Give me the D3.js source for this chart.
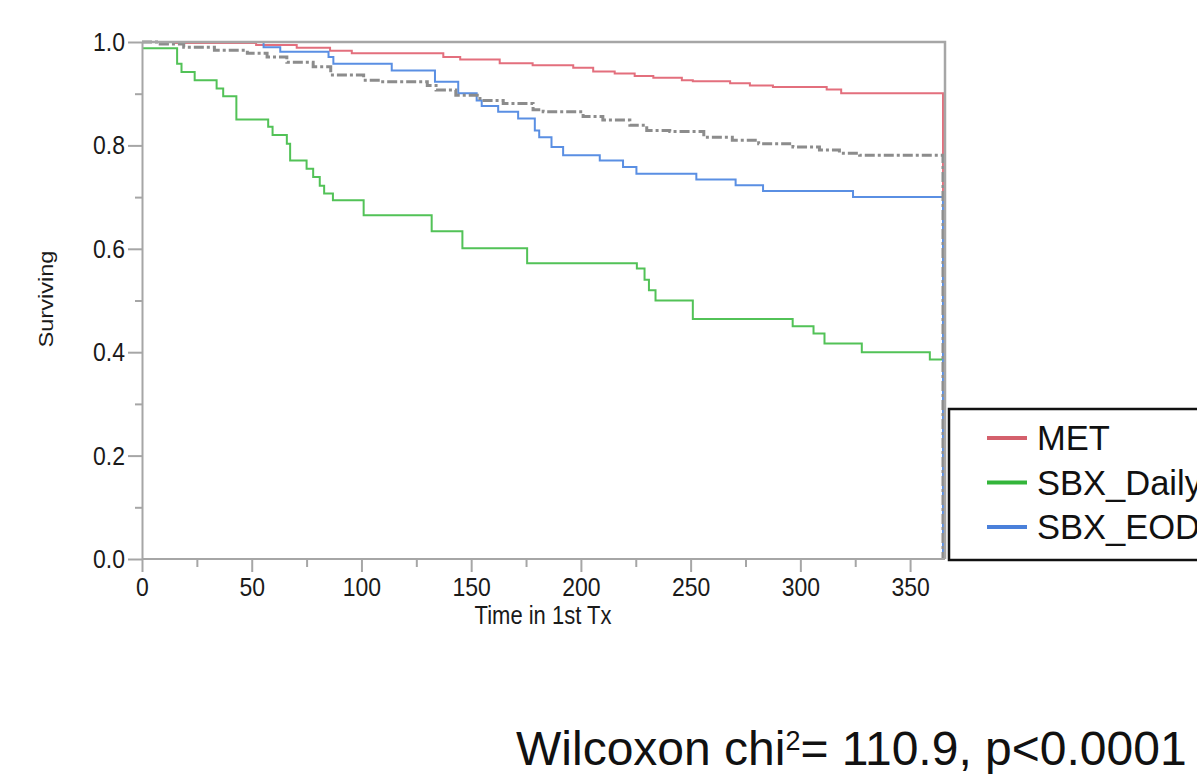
<!DOCTYPE html>
<html>
<head>
<meta charset="utf-8">
<script src="https://cdn.jsdelivr.net/npm/d3@7"></script>
<style>
  html, body { margin: 0; padding: 0; background: #fff; }
  svg { display: block; font-family: "Liberation Sans", Arial, Helvetica, sans-serif; }
  .tall { transform-box: fill-box; transform-origin: center; transform: scaleY(1.15); }
</style>
</head>
<body>
<svg id="chart" width="1197" height="774"></svg>
<script>
// Axis ticks
const timeTicks = [0, 50, 100, 150, 200, 250, 300, 350];
const timeMinor = [25, 75, 125, 175, 225, 275, 325];
const survTicks = [0, 0.2, 0.4, 0.6, 0.8, 1.0];
const survMinor = [0.1, 0.3, 0.5, 0.7, 0.9];

// Kaplan-Meier steps: [time in 1st Tx (days), surviving fraction after that time]
const metSteps = [
  [0, 1.0], [15, 0.998], [52, 0.994], [70.5, 0.989], [85.7, 0.983], [95.6, 0.978],
  [137.3, 0.971], [145, 0.966], [163, 0.959], [178, 0.955], [196.5, 0.950],
  [205.6, 0.943], [215.4, 0.939], [224.5, 0.934], [233, 0.931], [246, 0.926],
  [251, 0.924], [268, 0.920], [277, 0.916], [287.5, 0.913], [312, 0.908],
  [318.6, 0.901], [365, 0]
];
const dailySteps = [
  [0, 0.988], [16, 0.958], [18, 0.942], [24, 0.926], [34, 0.910], [37, 0.895],
  [43, 0.850], [57.5, 0.836], [59.5, 0.820], [66, 0.803], [67.5, 0.771], [75, 0.755],
  [78, 0.739], [81, 0.722], [83, 0.707], [87, 0.694], [101, 0.665], [132, 0.634],
  [146, 0.601], [175.5, 0.572], [225.5, 0.562], [229, 0.540], [231, 0.520],
  [234, 0.500], [251, 0.464], [296.5, 0.450], [306, 0.436], [311, 0.417],
  [328, 0.400], [359, 0.386], [365, 0]
];
const eodSteps = [
  [0, 1.0], [55.4, 0.990], [63, 0.981], [85, 0.971], [87.2, 0.958], [113.8, 0.945],
  [133.5, 0.923], [144.1, 0.901], [152.5, 0.887], [154.8, 0.876], [162.3, 0.865],
  [171.4, 0.852], [179, 0.829], [181, 0.816], [186.6, 0.797], [191.9, 0.781],
  [208.6, 0.771], [219.2, 0.758], [225.3, 0.745], [252.6, 0.734], [270.5, 0.723],
  [283, 0.712], [324, 0.700], [365, 0]
];
const allSteps = [
  [0, 1.0], [8.3, 0.996], [19, 0.990], [33, 0.984], [48, 0.978], [57, 0.971],
  [66, 0.961], [78, 0.952], [86, 0.936], [101, 0.926], [108.5, 0.923], [130, 0.916],
  [134, 0.907], [143, 0.897], [154, 0.887], [164.6, 0.881], [178.2, 0.869],
  [182.8, 0.865], [201, 0.856], [210, 0.849], [222.3, 0.839], [230, 0.829],
  [240.5, 0.827], [256, 0.816], [269, 0.810], [281, 0.803], [296.6, 0.797],
  [308.7, 0.791], [317.8, 0.785], [327, 0.781], [365, 0]
];

const groupNames = ["MET", "SBX_Daily", "SBX_EOD"];
const curveColors = ["#e36f7d", "#52c257", "#5a8fe3"];
const legendColors = ["#d4606c", "#33b53a", "#4a80da"];

const svg = d3.select("#chart");
const plotLeft = 142, plotRight = 943, plotTop = 42, plotBottom = 559;

const x = d3.scaleLinear().domain([0, 365]).range([plotLeft, plotRight]);
const y = d3.scaleLinear().domain([0, 1]).range([plotBottom, plotTop]);

const axisGray = "#a6a6a6";

// Survival curves
const line = d3.line()
  .x(d => x(d[0]))
  .y(d => y(d[1]))
  .curve(d3.curveStepAfter);

const curves = svg.append("g").attr("fill", "none");
[metSteps, dailySteps, eodSteps].forEach((steps, i) => {
  curves.append("path")
    .attr("d", line(steps))
    .attr("stroke", curveColors[i])
    .attr("stroke-width", 2);
});
curves.append("path")
  .attr("d", line(allSteps))
  .attr("stroke", "#8c8c8c")
  .attr("stroke-width", 3)
  .attr("stroke-dasharray", "10,3,3,3");

// Frame (top and right)
svg.append("path")
  .attr("d", `M${plotLeft},${plotTop}H${plotRight + 2}V${plotBottom}`)
  .attr("fill", "none")
  .attr("stroke", axisGray)
  .attr("stroke-width", 2.5);

// Axes
function styleAxis(g) {
  g.selectAll(".domain").attr("stroke", axisGray).attr("stroke-width", 2);
  g.selectAll(".tick line").attr("stroke", axisGray).attr("stroke-width", 2);
  g.selectAll(".tick text")
    .attr("fill", "#1a1a1a")
    .attr("font-size", 23)
    .attr("font-family", "Liberation Sans, Arial, sans-serif")
    .classed("tall", true);
}

svg.append("g")
  .attr("transform", `translate(${plotLeft},0)`)
  .call(d3.axisLeft(y).tickValues(survMinor).tickSize(7).tickFormat("").tickSizeOuter(0))
  .call(g => g.select(".domain").remove())
  .call(styleAxis);

svg.append("g")
  .attr("transform", `translate(0,${plotBottom})`)
  .call(d3.axisBottom(x).tickValues(timeMinor).tickSize(8).tickFormat("").tickSizeOuter(0))
  .call(g => g.select(".domain").remove())
  .call(styleAxis);

svg.append("g")
  .attr("transform", `translate(${plotLeft},0)`)
  .call(d3.axisLeft(y).tickValues(survTicks).tickFormat(d3.format(".1f"))
    .tickSize(14).tickPadding(3).tickSizeOuter(0))
  .call(styleAxis);

svg.append("g")
  .attr("transform", `translate(0,${plotBottom})`)
  .call(d3.axisBottom(x).tickValues(timeTicks).tickFormat(d3.format("d"))
    .tickSize(13).tickPadding(6).tickSizeOuter(0))
  .call(g => g.select(".domain").attr("d", `M${plotLeft},0H${plotRight + 2}`))
  .call(styleAxis);

// Axis titles
svg.append("text")
  .attr("class", "tall")
  .attr("x", 543).attr("y", 623)
  .attr("text-anchor", "middle")
  .attr("font-size", 22)
  .attr("fill", "#1a1a1a")
  .text("Time in 1st Tx");

svg.append("text")
  .attr("transform", "translate(53,299) scale(1,1.15) rotate(-90)")
  .attr("text-anchor", "middle")
  .attr("font-size", 20.5)
  .attr("fill", "#1a1a1a")
  .text("Surviving");

// Legend
const legend = svg.append("g");
legend.append("rect")
  .attr("x", 949).attr("y", 409)
  .attr("width", 300).attr("height", 151)
  .attr("fill", "#fff")
  .attr("stroke", "#111")
  .attr("stroke-width", 2.5);

groupNames.forEach((name, i) => {
  const cy = 438 + i * 44.5;
  legend.append("line")
    .attr("x1", 987).attr("x2", 1027)
    .attr("y1", cy).attr("y2", cy)
    .attr("stroke", legendColors[i])
    .attr("stroke-width", 4);
  legend.append("text")
    .attr("x", 1037).attr("y", cy + 12.4)
    .attr("font-size", 34.5)
    .attr("fill", "#111")
    .text(name);
});

// Test statistic
const stat = svg.append("text")
  .attr("x", 516).attr("y", 765)
  .attr("font-size", 48)
  .attr("fill", "#111");
stat.append("tspan").text("Wilcoxon chi");
stat.append("tspan").attr("font-size", 27).attr("dy", -15).text("2");
stat.append("tspan").attr("dy", 15).text("= 110.9, p<0.0001");
</script>
</body>
</html>
